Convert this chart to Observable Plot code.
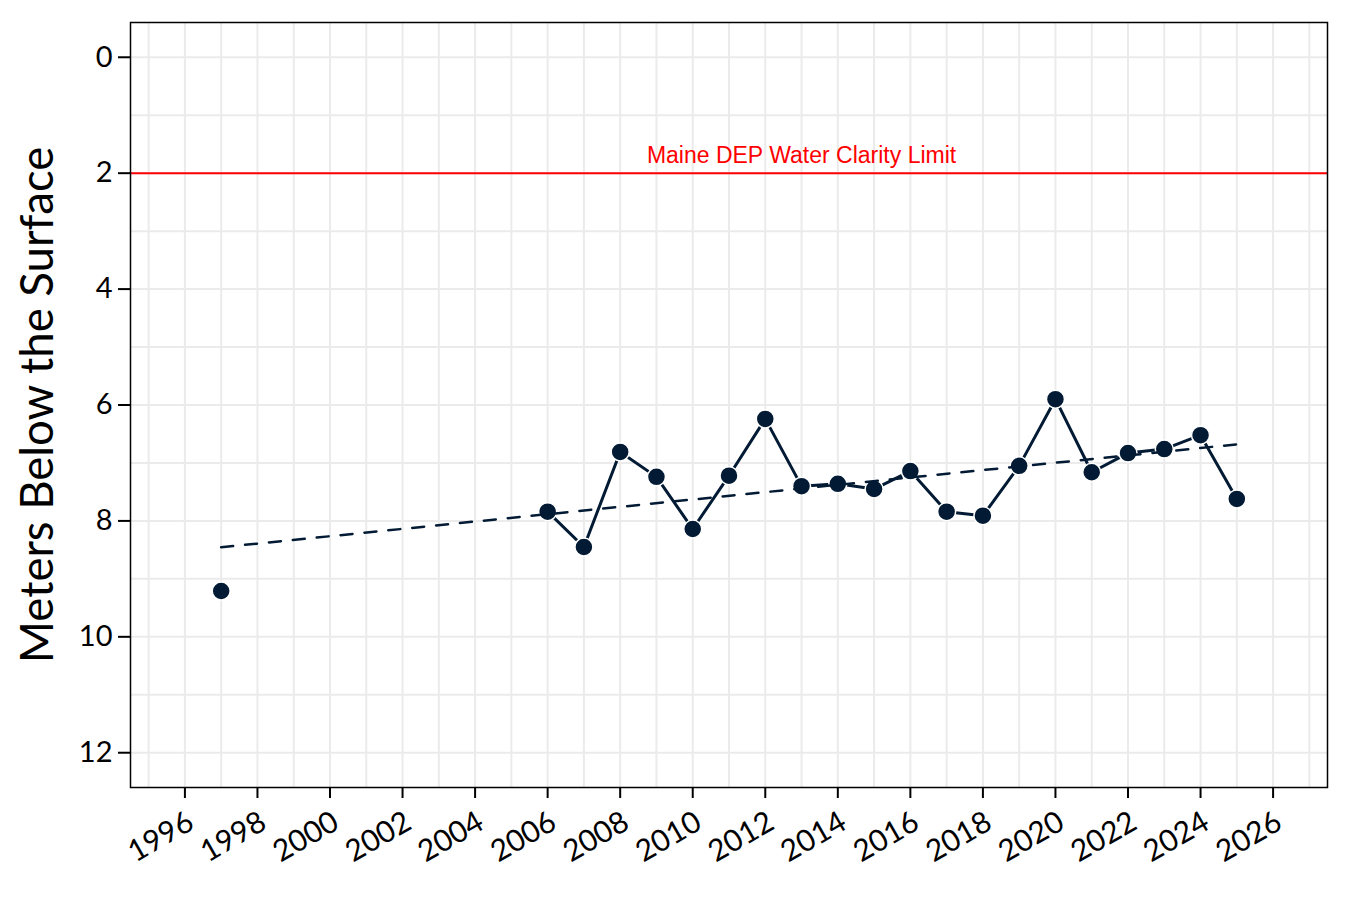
<!DOCTYPE html>
<html>
<head>
<meta charset="utf-8">
<script src="https://cdn.jsdelivr.net/npm/d3@7"></script>
<script src="https://cdn.jsdelivr.net/npm/@observablehq/plot@0.6"></script>
<style>
  html, body { margin: 0; padding: 0; background: #fff; }
  #chart { width: 1350px; height: 900px; }
</style>
</head>
<body>
<div id="chart"></div>
<script>
// ---- data ----
const years = [1997, 2006, 2007, 2008, 2009, 2010, 2011, 2012, 2013, 2014, 2015,
               2016, 2017, 2018, 2019, 2020, 2021, 2022, 2023, 2024, 2025];
const depths = [9.21, 7.84, 8.45, 6.81, 7.24, 8.14, 7.22, 6.24, 7.40, 7.36, 7.45,
                7.14, 7.84, 7.91, 7.05, 5.90, 7.16, 6.83, 6.76, 6.52, 7.62];
const xTicks = [1996, 1998, 2000, 2002, 2004, 2006, 2008, 2010, 2012, 2014, 2016,
                2018, 2020, 2022, 2024, 2026];
const xMinor = [1995, 1997, 1999, 2001, 2003, 2005, 2007, 2009, 2011, 2013, 2015,
                2017, 2019, 2021, 2023, 2025, 2027];
const yTicks = [0, 2, 4, 6, 8, 10, 12];
const yMinor = [1, 3, 5, 7, 9, 11];
const limitDepth = [2];
const limitLabel = ["Maine DEP Water Clarity Limit"];
const limitLabelYear = 2013;
const yTitle = "Meters Below the Surface";

// ---- table ----
let seg = 0;
const data = years.map((year, i) => {
  if (i > 0 && year - years[i - 1] > 1) seg++;
  return { year, depth: depths[i], seg };
});

const navy = "#021a33";
const grid = "#ebebeb";
const tickFont = "Lato, 'Open Sans', sans-serif";

const chart = Plot.plot({
  width: 1350,
  height: 900,
  marginLeft: 130,
  marginRight: 23,
  marginTop: 22,
  marginBottom: 113,
  style: { fontFamily: tickFont, background: "#fff" },
  x: { domain: [1994.5, 2027.5] },
  y: { domain: [-0.6, 12.6], reverse: true },
  marks: [
    Plot.gridX(xMinor, { stroke: grid, strokeOpacity: 1, strokeWidth: 2 }),
    Plot.gridY(yMinor, { stroke: grid, strokeOpacity: 1, strokeWidth: 2 }),
    Plot.gridX(xTicks, { stroke: grid, strokeOpacity: 1, strokeWidth: 2 }),
    Plot.gridY(yTicks, { stroke: grid, strokeOpacity: 1, strokeWidth: 2 }),
    Plot.ruleY(limitDepth, { stroke: "#ff0000", strokeWidth: 2 }),
    Plot.text(limitLabel, {
      x: () => limitLabelYear, y: () => limitDepth[0],
      dy: -18, fill: "#ff0000", fontSize: 23,
      fontFamily: "'Liberation Sans', Arial, sans-serif", textAnchor: "middle"
    }),
    Plot.line(data, { x: "year", y: "depth", z: "seg", stroke: navy, strokeWidth: 3 }),
    Plot.dot(data, { x: "year", y: "depth", r: 9, fill: navy, stroke: "white", strokeWidth: 1.5 }),
    Plot.linearRegressionY(data, {
      x: "year", y: "depth", ci: 0, stroke: navy, strokeWidth: 2.5, strokeDasharray: "12,12"
    }),
    Plot.frame({ stroke: "black", strokeWidth: 1.5 }),
    // x tick marks only
    Plot.axisX(xTicks, {
      tickFormat: () => "", tickSize: 11, stroke: "black", strokeWidth: 2, label: null
    }),
    // x tick labels, rotated
    Plot.axisX(xTicks, {
      tickFormat: "d", tickSize: 0, tickPadding: 15, tickRotate: -30,
      fontSize: 30, fill: "black", label: null, dy: 17, dx: 6
    }),
    Plot.axisY(yTicks, {
      tickFormat: "d", tickSize: 12, tickPadding: 6,
      fontSize: 29, stroke: "black", strokeWidth: 2, fill: "black", label: null
    }),
    Plot.text([yTitle], {
      frameAnchor: "left", rotate: -90, dx: -92, fontSize: 45.5, fill: "black",
      fontFamily: tickFont, textAnchor: "middle", lineAnchor: "middle"
    })
  ]
});
document.getElementById("chart").appendChild(chart);
</script>
</body>
</html>
